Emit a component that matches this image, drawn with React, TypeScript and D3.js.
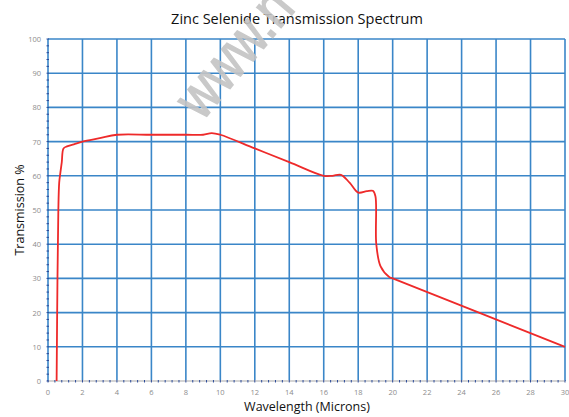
import React, { useEffect, useRef } from "react";
import * as d3 from "d3";

const wavelength = [0.5, 0.55, 0.6, 0.65, 0.72, 0.8, 0.9, 1.1, 1.5, 2, 3, 4, 6, 8, 9, 9.5, 10, 12, 14, 16, 16.5, 17, 17.5, 18, 18.5, 18.85, 19, 19.05, 19.3, 19.8, 20, 30];
const transmission = [0, 30, 50, 58, 61, 64, 68, 68.6, 69.2, 70, 71, 72, 72, 72, 72, 72.5, 72, 68, 64, 60, 60, 60.3, 58, 55.1, 55.5, 55.6, 54, 40, 33.5, 30.4, 30, 10];
const xTicks = d3.range(0, 31, 2);
const yTicks = d3.range(0, 101, 10);

const width = 569;
const height = 417;
const margin = { top: 39, right: 4, bottom: 36, left: 48 };

export default function App() {
  const ref = useRef<SVGSVGElement>(null);

  useEffect(() => {
    document.body.style.margin = "0";
    const svg = d3.select(ref.current);
    svg.selectAll("*").remove();

    const x = d3.scaleLinear().domain([0, 30]).range([margin.left, width - margin.right]);
    const y = d3.scaleLinear().domain([0, 100]).range([height - margin.bottom, margin.top]);

    const grid = svg.append("g");
    grid
      .selectAll("line.v")
      .data(xTicks)
      .join("line")
      .attr("x1", (d) => x(d))
      .attr("x2", (d) => x(d))
      .attr("y1", y(0))
      .attr("y2", y(100))
      .attr("stroke", "#3a86c8")
      .attr("stroke-width", 1.6);
    grid
      .selectAll("line.h")
      .data(yTicks.filter((d) => d > 0))
      .join("line")
      .attr("x1", x(0))
      .attr("x2", x(30))
      .attr("y1", (d) => y(d))
      .attr("y2", (d) => y(d))
      .attr("stroke", "#3a86c8")
      .attr("stroke-width", 1.6);

    // bottom axis line
    svg
      .append("line")
      .attr("x1", x(0))
      .attr("x2", x(30))
      .attr("y1", y(0))
      .attr("y2", y(0))
      .attr("stroke", "#d4d4d4")
      .attr("stroke-width", 2);

    // minor ticks
    svg
      .append("g")
      .selectAll("line")
      .data(d3.range(0, 30.01, 0.4))
      .join("line")
      .attr("x1", (d) => x(d))
      .attr("x2", (d) => x(d))
      .attr("y1", y(0) - 1)
      .attr("y2", y(0) + 1.5)
      .attr("stroke", "#2a4a9a")
      .attr("stroke-width", 1);
    svg
      .append("g")
      .selectAll("line")
      .data(d3.range(0, 100.01, 2))
      .join("line")
      .attr("x1", x(0) - 1.5)
      .attr("x2", x(0) + 1)
      .attr("y1", (d) => y(d))
      .attr("y2", (d) => y(d))
      .attr("stroke", "#2a4a9a")
      .attr("stroke-width", 1);

    // tick labels
    svg
      .append("g")
      .selectAll("text")
      .data(xTicks)
      .join("text")
      .attr("x", (d) => x(d))
      .attr("y", y(0) + 14)
      .attr("text-anchor", "middle")
      .attr("font-size", 7.5)
      .attr("font-family", "Open Sans, sans-serif")
      .attr("fill", "#8c8c8c")
      .text((d) => d);
    svg
      .append("g")
      .selectAll("text")
      .data(yTicks)
      .join("text")
      .attr("x", x(0) - 7)
      .attr("y", (d) => y(d) + 3)
      .attr("text-anchor", "end")
      .attr("font-size", 7.5)
      .attr("font-family", "Open Sans, sans-serif")
      .attr("fill", "#8c8c8c")
      .text((d) => d);

    // curve
    const pts = wavelength.map((w, i) => [w, transmission[i]] as [number, number]);
    const line = d3
      .line<[number, number]>()
      .x((d) => x(d[0]))
      .y((d) => y(d[1]))
      .curve(d3.curveCatmullRom.alpha(0.5));
    svg
      .append("path")
      .datum(pts)
      .attr("d", line)
      .attr("fill", "none")
      .attr("stroke", "#ee2a2a")
      .attr("stroke-width", 1.8);

    // titles
    svg
      .append("text")
      .attr("x", 297)
      .attr("y", 24)
      .attr("text-anchor", "middle")
      .attr("font-size", 14.5)
      .attr("font-family", "Open Sans, sans-serif")
      .attr("fill", "#111")
      .text("Zinc Selenide Transmission Spectrum");
    svg
      .append("text")
      .attr("x", 307)
      .attr("y", 411)
      .attr("text-anchor", "middle")
      .attr("font-size", 12.5)
      .attr("font-family", "Open Sans, sans-serif")
      .attr("fill", "#111")
      .text("Wavelength (Microns)");
    svg
      .append("text")
      .attr("transform", "translate(24,210) rotate(-90)")
      .attr("text-anchor", "middle")
      .attr("font-size", 12.5)
      .attr("font-family", "Open Sans, sans-serif")
      .attr("fill", "#111")
      .text("Transmission %");

    // watermark (runs off the top edge, as in the source image)
    svg
      .append("text")
      .attr("transform", "translate(202,122) rotate(-50) scale(1,1.2)")
      .attr("font-size", 50)
      .attr("font-family", "Liberation Sans, Arial, sans-serif")
      .attr("fill", "#c4c4c4")
      .attr("stroke", "#c4c4c4")
      .attr("stroke-width", 1.2)
      .attr("opacity", 0.9)
      .text("www.n");
  }, []);

  return <svg ref={ref} width={width} height={height} style={{ display: "block" }} />;
}
